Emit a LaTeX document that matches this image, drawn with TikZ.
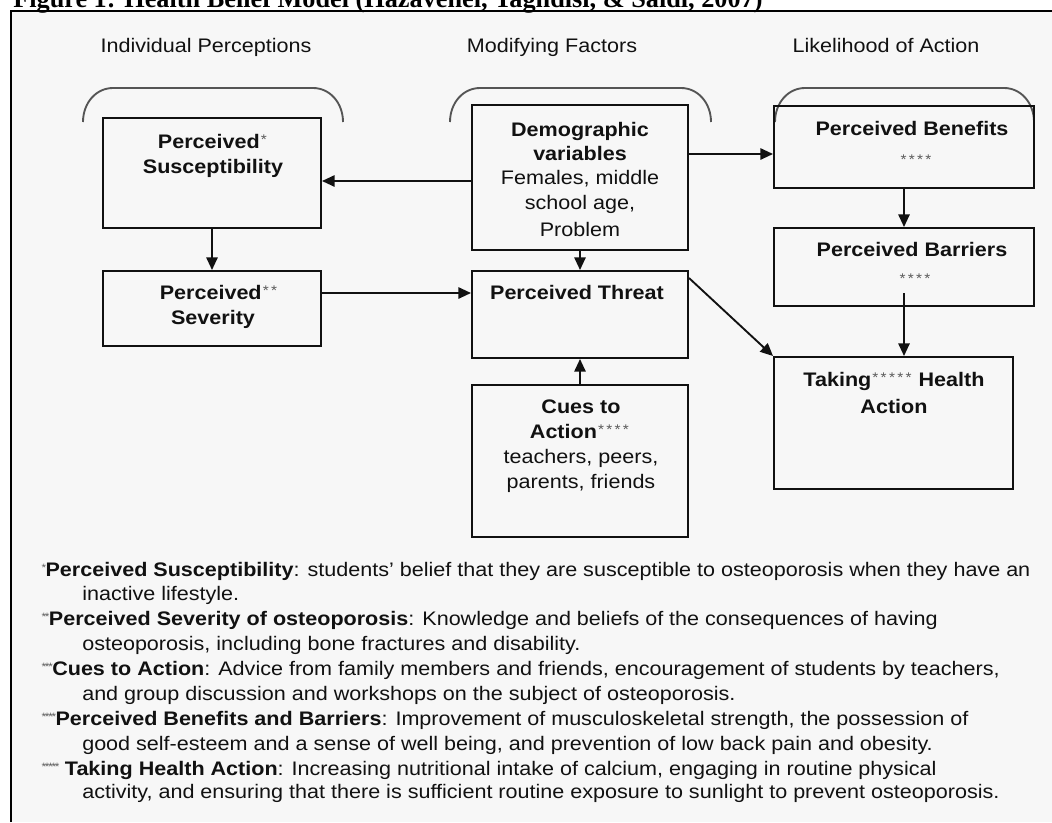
\documentclass[tikz,border=0pt]{standalone}
\usepackage{fontspec}
\setmainfont{Liberation Sans}[FakeStretch=1.1]
\newfontfamily\capfont{Liberation Serif}
\usetikzlibrary{arrows.meta}

\definecolor{panel}{HTML}{F7F7F7}
\definecolor{ink}{HTML}{111111}
\definecolor{starink}{HTML}{5A5A5A}
\definecolor{brace}{HTML}{555555}

% raised footnote asterisk used inside the boxes
\newcommand\bst{\hbox to 6.2pt{\hss\raisebox{2.6pt}{\fontsize{10.5pt}{10.5pt}\selectfont\textcolor{starink}{*}}\hss}}
% smaller asterisk used in the notes below the model
\newcommand\nst{\hbox to 2.5pt{\hss\raisebox{3.3pt}{\fontsize{8pt}{8pt}\selectfont\textcolor{starink}{*}}\hss}}

\begin{document}
\begin{tikzpicture}[x=0.75pt,y=-0.75pt,
  txt/.style={font=\fontsize{14.7pt}{18.75pt}\selectfont, text=ink, inner sep=0pt, anchor=base},
  note/.style={txt, anchor=base west},
  pbox/.style 2 args={draw=ink, line width=1.5pt, inner sep=0pt,
    minimum width=#1*0.75pt, minimum height=#2*0.75pt},
  arr/.style={draw=ink, line width=1.4pt, -{Triangle[length=9.5pt,width=8.5pt]}},
  brk/.style={draw=brace, line width=1.4pt},
  frame/.style={draw=black, line width=1.9pt}]

\useasboundingbox (0,0) rectangle (1052,822);
\fill[white] (0,0) rectangle (1052,822);
\fill[panel] (11,11) rectangle (1052,822);

% caption, cut by the top of the page
\node[anchor=base west, inner sep=0pt, font=\capfont\bfseries\fontsize{19.7pt}{22pt}\selectfont]
  (caption) at (13,7.5) {Figure 1: Health Belief Model (Hazavehei, Taghdisi, \& Saidi, 2007)};
\draw[frame] (11,822) -- (11,11) -- (1052,11);

% column headings
\node[txt] (h1) at (206,52) {Individual Perceptions};
\node[txt] (h2) at (552,52) {Modifying Factors};
\node[txt] (h3) at (886,52) {Likelihood of Action};

% brackets over the three columns
\draw[brk] (83,122) .. controls (83,103) and (96,88) .. (113,88) -- (313,88)
  .. controls (330,88) and (343,103) .. (343,122);
\draw[brk] (450,122) .. controls (450,103) and (463,88) .. (480,88) -- (681,88)
  .. controls (698,88) and (711,103) .. (711,122);
\draw[brk] (775,122) .. controls (775,103) and (788,88) .. (805,88) -- (1004,88)
  .. controls (1021,88) and (1034,103) .. (1034,122);

% boxes
\node[pbox={218}{110}] (susc) at (212,173) {};
\node[pbox={218}{75}] (sev) at (212,308.5) {};
\node[pbox={216}{145}] (demo) at (580,177.5) {};
\node[pbox={216}{87}] (threat) at (580,314.5) {};
\node[pbox={216}{152}] (cues) at (580,461) {};
\node[pbox={260}{82}] (ben) at (904,147) {};
\node[pbox={260}{78}] (bar) at (904,267) {};
\node[pbox={239}{132}] (take) at (893.5,423) {};

% box texts
\node[txt] (susc1) at (213,148) {\textbf{Perceived}\bst};
\node[txt] (susc2) at (213,173) {\textbf{Susceptibility}};
\node[txt] (sev1) at (219,299) {\textbf{Perceived}\bst\bst};
\node[txt] (sev2) at (213,324) {\textbf{Severity}};
\node[txt] (demo1) at (580,136) {\textbf{Demographic}};
\node[txt] (demo2) at (580,160) {\textbf{variables}};
\node[txt] (demo3) at (580,184) {Females, middle};
\node[txt] (demo4) at (580,209) {school age,};
\node[txt] (demo5) at (580,236) {Problem};
\node[txt] (thr1) at (577,299) {\textbf{Perceived Threat}};
\node[txt] (cue1) at (581,413) {\textbf{Cues to}};
\node[txt] (cue2) at (580,438) {\textbf{Action}\bst\bst\bst\bst};
\node[txt] (cue3) at (581,463) {teachers, peers,};
\node[txt] (cue4) at (581,488) {parents, friends};
\node[txt] (ben1) at (912,135) {\textbf{Perceived Benefits}};
\node[txt] (ben2) at (916,168) {\bst\bst\bst\bst};
\node[txt] (bar1) at (912,256) {\textbf{Perceived Barriers}};
\node[txt] (bar2) at (915,287) {\bst\bst\bst\bst};
\node[txt] (take1) at (894,386) {\textbf{Taking}\bst\bst\bst\bst\bst\ \textbf{Health}};
\node[txt] (take2) at (894,413) {\textbf{Action}};

% connector heights and free ends
\coordinate (rowA) at (0,181);
\coordinate (rowB) at (0,154);
\coordinate (rowC) at (0,293);
\coordinate (rowD) at (0,278);
\coordinate (barout) at (904,293);

% connectors
\draw[arr] (demo.west |- rowA) -- (susc.east |- rowA);
\draw[arr] (demo.east |- rowB) -- (ben.west |- rowB);
\draw[arr] (demo.south) -- (threat.north);
\draw[arr] (susc.south) -- (sev.north);
\draw[arr] (sev.east |- rowC) -- (threat.west |- rowC);
\draw[arr] (threat.east |- rowD) -- (take.north west);
\draw[arr] (cues.north) -- (threat.south);
\draw[arr] (ben.south) -- (bar.north);
\draw[arr] (barout) -- (take.north -| barout);

% notes
\node[note] (n1) at (42,576) {\nst\textbf{Perceived Susceptibility}: students' belief that they are susceptible to osteoporosis when they have an};
\node[note] (n2) at (82,600) {inactive lifestyle.};
\node[note] (n3) at (42,625) {\nst\nst\textbf{Perceived Severity of osteoporosis}: Knowledge and beliefs of the consequences of having};
\node[note] (n4) at (82,650) {osteoporosis, including bone fractures and disability.};
\node[note] (n5) at (42,675) {\nst\nst\nst\textbf{Cues to Action}: Advice from family members and friends, encouragement of students by teachers,};
\node[note] (n6) at (82,700) {and group discussion and workshops on the subject of osteoporosis.};
\node[note] (n7) at (42,725) {\nst\nst\nst\nst\textbf{Perceived Benefits and Barriers}: Improvement of musculoskeletal strength, the possession of};
\node[note] (n8) at (82,750) {good self-esteem and a sense of well being, and prevention of low back pain and obesity.};
\node[note] (n9) at (42,775) {\nst\nst\nst\nst\nst\ \textbf{Taking Health Action}: Increasing nutritional intake of calcium, engaging in routine physical};
\node[note] (n10) at (82,798) {activity, and ensuring that there is sufficient routine exposure to sunlight to prevent osteoporosis.};

\end{tikzpicture}
\end{document}
